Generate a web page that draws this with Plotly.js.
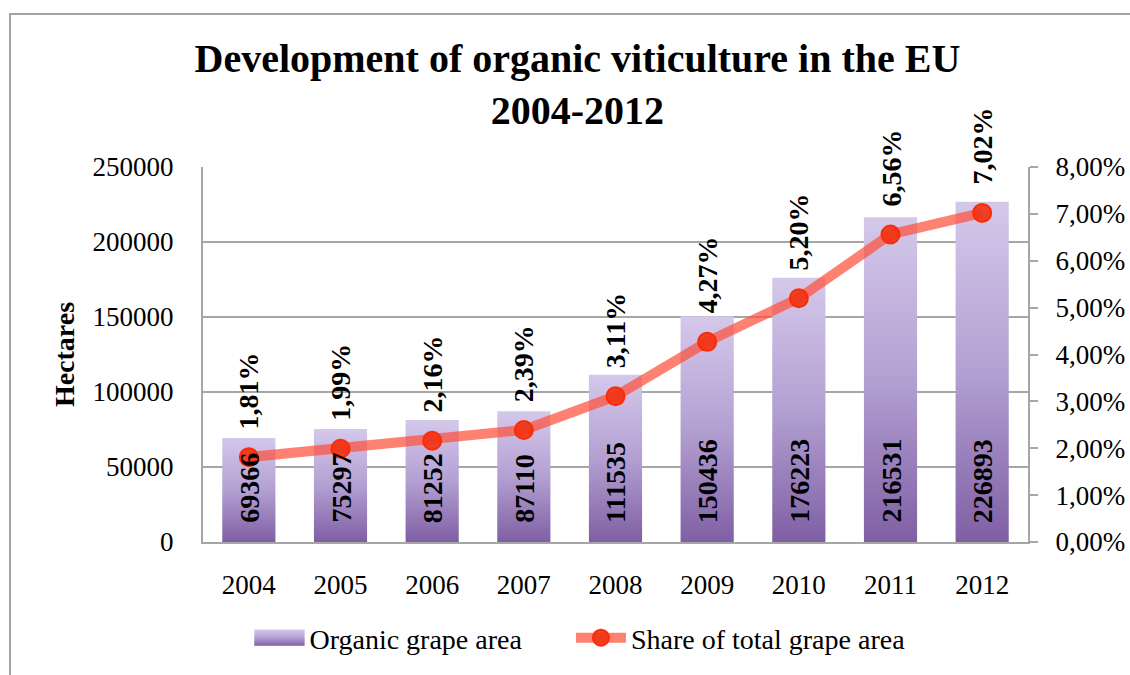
<!DOCTYPE html>
<html>
<head>
<meta charset="utf-8">
<script src="https://cdn.plot.ly/plotly-3.0.1.min.js"></script>
<style>
  html, body { margin: 0; padding: 0; background: #fff; overflow: hidden; }
  #chart { position: absolute; left: 0; top: 0; width: 1130px; height: 675px; }
  #frame { position: absolute; left: 9px; top: 13px; width: 1300px; height: 800px;
           border: 2px solid #a3a3a3; pointer-events: none; z-index: 5; }
</style>
</head>
<body>
<div id="chart"></div>
<div id="frame"></div>
<script>
// ---- data ----
const years = ['2004','2005','2006','2007','2008','2009','2010','2011','2012'];
const organicArea = [69366, 75297, 81252, 87110, 111535, 150436, 176223, 216531, 226893];
const sharePct = [1.81, 1.99, 2.16, 2.39, 3.11, 4.27, 5.20, 6.56, 7.02];
const seriesNames = ['Organic grape area', 'Share of total grape area'];
const titleText = 'Development of organic viticulture in the EU<br>2004-2012';
const yTitle = 'Hectares';

const SERIF = 'Liberation Serif, Times New Roman, serif';
const GRID = '#a6a6a6';

const barTrace = {
  type: 'bar', x: years, y: organicArea, name: seriesNames[0], legend: 'legend',
  marker: { color: '#a893c8' }, hoverinfo: 'x+y'
};
const lineTrace = {
  type: 'scatter', mode: 'lines+markers', x: years, y: sharePct, yaxis: 'y2',
  name: seriesNames[1], legend: 'legend2',
  line: { color: 'rgba(255,80,60,0.72)', width: 10 },
  marker: { size: 18, color: 'rgba(240,50,20,0.9)', line: { color: '#ff2a00', width: 2 } }
};

// annotations on a category axis use the category serial number
const annotations = [];
years.forEach((yr, i) => {
  annotations.push({
    x: i, y: 0, xref: 'x', yref: 'y', text: String(organicArea[i]),
    showarrow: false, textangle: -90, yanchor: 'bottom', xanchor: 'center', yshift: 17,
    font: { family: SERIF, size: 28, color: '#000', weight: 'bold' }
  });
  annotations.push({
    x: i, y: sharePct[i], xref: 'x', yref: 'y2',
    text: sharePct[i].toFixed(2).replace('.', ',') + '%',
    showarrow: false, textangle: -90, yanchor: 'bottom', xanchor: 'center', yshift: 26,
    font: { family: SERIF, size: 28, color: '#000', weight: 'bold' }
  });
});

const legendBase = {
  orientation: 'h', xanchor: 'left', y: -0.256, yanchor: 'middle',
  font: { family: SERIF, size: 28, color: '#000' }, itemwidth: 50, bgcolor: 'rgba(0,0,0,0)'
};

const layout = {
  width: 1130, height: 675,
  margin: { l: 203, r: 102, t: 167, b: 133 },
  paper_bgcolor: '#fff', plot_bgcolor: '#fff',
  separators: ',.',
  font: { family: SERIF, size: 28, color: '#000' },
  title: {
    text: titleText, xref: 'container', yref: 'container', x: 0.511, y: 0.893,
    xanchor: 'center', yanchor: 'top',
    font: { family: SERIF, size: 40, color: '#000', weight: 'bold' }
  },
  bargap: 0.42,
  showlegend: true,
  legend: Object.assign({}, legendBase, { x: 0.0563 }),
  legend2: Object.assign({}, legendBase, { x: 0.446 }),
  xaxis: {
    type: 'category', range: [-0.5, 8.5], showline: true, linecolor: GRID, linewidth: 2, ticks: '',
    ticklabelstandoff: 18, tickfont: { family: SERIF, size: 27 }, showgrid: false
  },
  yaxis: {
    range: [0, 250000], dtick: 50000, tickformat: 'd', showline: true, linecolor: GRID,
    linewidth: 2, gridcolor: GRID, gridwidth: 1.5, ticks: '', zeroline: false,
    ticklabelstandoff: 22, tickfont: { family: SERIF, size: 27 },
    title: { text: yTitle, standoff: 10, font: { family: SERIF, size: 28, weight: 'bold' } }
  },
  yaxis2: {
    overlaying: 'y', side: 'right', range: [0, 8], dtick: 1, tickformat: '.2f',
    ticksuffix: '%', showgrid: false, zeroline: false, showline: true, linecolor: GRID,
    linewidth: 2, ticks: 'outside', ticklen: 8, tickcolor: GRID, tickwidth: 2,
    ticklabelstandoff: 12, tickfont: { family: SERIF, size: 27 }
  },
  annotations: annotations
};

const gd = document.getElementById('chart');

function applyGradient() {
  const svg = gd.querySelector('svg.main-svg');
  if (!svg) return;
  let defs = svg.querySelector('defs');
  if (!defs) { defs = document.createElementNS('http://www.w3.org/2000/svg', 'defs'); svg.insertBefore(defs, svg.firstChild); }
  if (!svg.querySelector('#barGrad')) {
    const g = document.createElementNS('http://www.w3.org/2000/svg', 'linearGradient');
    g.setAttribute('id', 'barGrad');
    g.setAttribute('x1', '0'); g.setAttribute('y1', '0'); g.setAttribute('x2', '0'); g.setAttribute('y2', '1');
    [['0', '#d4c8ea'], ['0.5', '#b3a0d2'], ['1', '#7f5fa4']].forEach(([o, c]) => {
      const s = document.createElementNS('http://www.w3.org/2000/svg', 'stop');
      s.setAttribute('offset', o); s.setAttribute('stop-color', c);
      g.appendChild(s);
    });
    defs.appendChild(g);
  }
  gd.querySelectorAll('.trace.bars .point path').forEach(p => { p.style.fill = 'url(#barGrad)'; });
  // bar legend symbol: gradient + Excel-like wide swatch
  const legTraces = gd.querySelectorAll('.traces');
  if (legTraces.length) {
    legTraces[0].querySelectorAll('.legendpoints path').forEach(p => {
      p.style.fill = 'url(#barGrad)';
      if (!p.dataset.widened) {
        const t = p.getAttribute('transform') || '';
        p.setAttribute('transform', t + ' scale(4.2,1.35)');
        p.dataset.widened = '1';
      }
    });
  }
}

Plotly.newPlot(gd, [barTrace, lineTrace], layout, { displayModeBar: false, staticPlot: true })
  .then(() => { applyGradient(); gd.on && gd.on('plotly_afterplot', applyGradient); });
</script>
</body>
</html>
